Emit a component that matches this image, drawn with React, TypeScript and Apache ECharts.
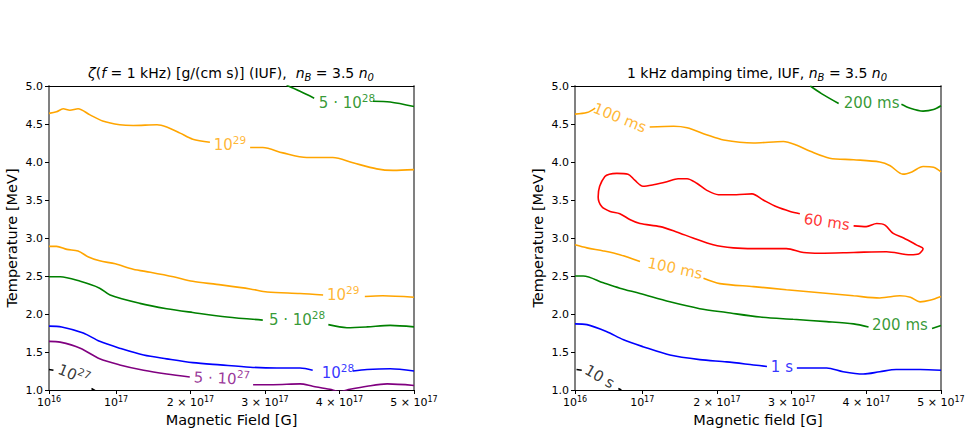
import React, { useEffect, useRef } from 'react';
import * as echarts from 'echarts';

const FONT = 'DejaVu Sans';

// x values in units of 1e17 G, y in MeV
const xTickValues = [0.1, 1, 2, 3, 4, 5];

// ---------- Left panel: bulk viscosity zeta ----------
const zetaOrangeUpperA = [[0.1, 4.64], [0.2, 4.66], [0.29, 4.70], [0.38, 4.68], [0.49, 4.70], [0.65, 4.62], [0.82, 4.54], [1.05, 4.49], [1.23, 4.48], [1.55, 4.49], [1.68, 4.46], [1.86, 4.38], [2.03, 4.30], [2.26, 4.26]];
const zetaOrangeUpperB = [[2.80, 4.19], [2.97, 4.19], [3.24, 4.12], [3.56, 4.06], [3.91, 4.06], [4.18, 3.99], [4.50, 3.91], [4.72, 3.89], [5.0, 3.90]];
const zetaGreenUpperA = [[3.29, 5.01], [3.47, 4.93], [3.66, 4.84]];
const zetaGreenUpperB = [[4.45, 4.80], [4.68, 4.79], [5.0, 4.73]];
const zetaOrangeLowerA = [[0.1, 2.89], [0.2, 2.89], [0.34, 2.85], [0.49, 2.83], [0.63, 2.75], [0.78, 2.70], [0.99, 2.66], [1.23, 2.59], [1.46, 2.55], [1.77, 2.49], [2.03, 2.43], [2.35, 2.39], [2.80, 2.33], [3.03, 2.29], [3.47, 2.27], [3.78, 2.25]];
const zetaOrangeLowerB = [[4.34, 2.23], [4.58, 2.24], [5.0, 2.22]];
const zetaGreenLowerA = [[0.1, 2.49], [0.25, 2.49], [0.52, 2.43], [0.78, 2.34], [0.92, 2.25], [1.32, 2.14], [1.68, 2.07], [2.03, 2.02], [2.49, 1.96], [2.97, 1.92]];
const zetaGreenLowerB = [[3.85, 1.86], [4.1, 1.82], [4.37, 1.83], [4.68, 1.85], [5.0, 1.83]];
const zetaBlueA = [[0.1, 1.84], [0.27, 1.83], [0.56, 1.75], [0.78, 1.64], [1.05, 1.55], [1.37, 1.46], [1.68, 1.41], [2.03, 1.36], [2.40, 1.33], [2.80, 1.30], [3.16, 1.29], [3.47, 1.29], [3.64, 1.26]];
const zetaBlueB = [[4.18, 1.25], [4.37, 1.27], [4.68, 1.28], [5.0, 1.25]];
const zetaPurpleA = [[0.1, 1.64], [0.25, 1.63], [0.52, 1.55], [0.78, 1.41], [1.05, 1.33], [1.37, 1.26], [1.68, 1.21], [1.99, 1.17]];
const zetaPurpleB = [[2.84, 1.07], [3.11, 1.07], [3.47, 1.08], [3.64, 1.05], [3.87, 1.01], [4.0, 0.98], [4.14, 1.01], [4.37, 1.05], [4.64, 1.08], [5.0, 1.06]];
const zetaBlackA = [[0.1, 1.27], [0.16, 1.26]];
const zetaBlackB = [[0.67, 1.02], [0.72, 0.99]];

const zetaLabelText = ['10{s|29}', '5 · 10{s|28}', '10{s|29}', '5 · 10{s|28}', '10{s|28}', '5 · 10{s|27}', '10{s|27}'];
const zetaLabelPos = [[2.53, 4.22], [4.1, 4.77], [4.05, 2.25], [3.43, 1.92], [3.98, 1.22], [2.42, 1.15], [0.43, 1.20]];

// ---------- Right panel: damping time ----------
const tauOrangeUpperA = [[0.1, 4.63], [0.26, 4.65], [0.37, 4.71]];
const tauOrangeUpperB = [[1.10, 4.46], [1.42, 4.47], [1.60, 4.45], [1.86, 4.36], [2.09, 4.29], [2.49, 4.25], [2.89, 4.27], [3.07, 4.22], [3.25, 4.14], [3.51, 4.05], [3.83, 4.03], [4.18, 4.00], [4.32, 3.95], [4.49, 3.84], [4.61, 3.87], [4.76, 3.94], [4.90, 3.93], [5.0, 3.87]];
const tauGreenUpperA = [[3.25, 5.0], [3.40, 4.90], [3.63, 4.77]];
const tauGreenUpperB = [[4.47, 4.76], [4.58, 4.71], [4.76, 4.67], [4.90, 4.69], [5.0, 4.74]];
const tauRed = [[3.83, 3.16], [4.0, 3.15], [4.14, 3.19], [4.25, 3.17], [4.36, 3.06], [4.50, 3.00], [4.67, 2.91], [4.76, 2.86], [4.70, 2.79], [4.59, 2.78], [4.27, 2.82], [3.83, 2.81], [3.38, 2.80], [3.16, 2.81], [2.93, 2.86], [2.49, 2.86], [2.22, 2.87], [1.95, 2.91], [1.68, 3.00], [1.46, 3.08], [1.24, 3.15], [0.97, 3.19], [0.84, 3.24], [0.70, 3.32], [0.57, 3.35], [0.46, 3.41], [0.41, 3.54], [0.43, 3.68], [0.50, 3.81], [0.56, 3.84], [0.66, 3.85], [0.81, 3.84], [0.90, 3.76], [1.01, 3.68], [1.15, 3.70], [1.33, 3.74], [1.48, 3.78], [1.60, 3.78], [1.73, 3.72], [1.86, 3.63], [2.02, 3.57], [2.26, 3.57], [2.47, 3.58], [2.62, 3.50], [2.80, 3.41], [2.98, 3.35], [3.11, 3.32]];
const tauOrangeLowerA = [[0.1, 2.91], [0.26, 2.87], [0.48, 2.83], [0.70, 2.78], [0.97, 2.69]];
const tauOrangeLowerB = [[1.82, 2.47], [2.04, 2.40], [2.49, 2.36], [2.93, 2.32], [3.38, 2.28], [3.83, 2.24], [4.18, 2.21], [4.27, 2.22], [4.45, 2.24], [4.59, 2.22], [4.72, 2.16], [4.85, 2.18], [5.0, 2.23]];
const tauGreenLowerA = [[0.1, 2.50], [0.21, 2.50], [0.48, 2.41], [0.70, 2.34], [0.97, 2.27], [1.37, 2.16], [1.77, 2.07], [2.13, 2.02], [2.58, 1.96], [3.02, 1.93], [3.47, 1.90], [3.83, 1.87], [4.03, 1.83]];
const tauGreenLowerB = [[4.88, 1.81], [5.0, 1.85]];
const tauBlueA = [[0.1, 1.87], [0.26, 1.86], [0.52, 1.77], [0.75, 1.66], [1.01, 1.57], [1.37, 1.46], [1.77, 1.40], [2.13, 1.37], [2.49, 1.33], [2.67, 1.31]];
const tauBlueB = [[3.07, 1.29], [3.47, 1.29], [3.69, 1.24], [3.96, 1.21], [4.18, 1.24], [4.40, 1.27], [4.72, 1.27], [5.0, 1.26]];
const tauBlackA = [[0.12, 1.27], [0.19, 1.26]];
const tauBlackB = [[0.68, 1.02], [0.72, 1.0]];

const tauLabelText = ['100 ms', '200 ms', '60 ms', '100 ms', '200 ms', '1 s', '10 s'];
const tauLabelPos = [[0.70, 4.58], [4.07, 4.77], [3.47, 3.21], [1.44, 2.60], [4.45, 1.86], [2.87, 1.30], [0.43, 1.175]];

// ---------- styles ----------
const ORANGE = '#FFA500';
const GREEN = '#008000';
const BLUE = '#0000FF';
const PURPLE = '#800080';
const RED = '#FF0000';
const BLACK = '#000000';

const zetaLines: [number[][], string][] = [
  [zetaOrangeUpperA, ORANGE], [zetaOrangeUpperB, ORANGE],
  [zetaGreenUpperA, GREEN], [zetaGreenUpperB, GREEN],
  [zetaOrangeLowerA, ORANGE], [zetaOrangeLowerB, ORANGE],
  [zetaGreenLowerA, GREEN], [zetaGreenLowerB, GREEN],
  [zetaBlueA, BLUE], [zetaBlueB, BLUE],
  [zetaPurpleA, PURPLE], [zetaPurpleB, PURPLE],
  [zetaBlackA, BLACK], [zetaBlackB, BLACK],
];
const zetaLabelColor = [ORANGE, GREEN, ORANGE, GREEN, BLUE, PURPLE, BLACK];
const zetaLabelRotate = [0, 0, 0, 0, 0, -3, -22];

const tauLines: [number[][], string][] = [
  [tauOrangeUpperA, ORANGE], [tauOrangeUpperB, ORANGE],
  [tauGreenUpperA, GREEN], [tauGreenUpperB, GREEN],
  [tauRed, RED],
  [tauOrangeLowerA, ORANGE], [tauOrangeLowerB, ORANGE],
  [tauGreenLowerA, GREEN], [tauGreenLowerB, GREEN],
  [tauBlueA, BLUE], [tauBlueB, BLUE],
  [tauBlackA, BLACK], [tauBlackB, BLACK],
];
const tauLabelColor = [ORANGE, GREEN, RED, ORANGE, GREEN, BLUE, BLACK];
const tauLabelRotate = [-22, 0, -8, -12, 0, 0, -30];

function buildOption() {
  const grids = [
    { left: 49, top: 86, width: 365, height: 304 },
    { left: 575, top: 86, width: 366, height: 304 },
  ];
  const xNames = ['Magnetic Field [G]', 'Magnetic field [G]'];

  const tickRich = {
    s: { fontSize: 8, fontFamily: FONT, color: '#000', padding: [0, 0, 7, 0] },
  };
  const xLabelFmt = (v: number) => {
    if (Math.abs(v - 0.1) < 1e-6) return '10{s|16}';
    if (Math.abs(v - 1) < 1e-6) return '10{s|17}';
    return `${Math.round(v)} × 10{s|17}`;
  };

  const xAxis: any[] = [];
  const yAxis: any[] = [];
  [0, 1].forEach((g) => {
    xAxis.push({
      type: 'value', gridIndex: g, min: 0.1, max: 5, position: 'bottom',
      name: xNames[g], nameLocation: 'middle', nameGap: 22,
      nameTextStyle: { fontFamily: FONT, fontSize: 14.5, color: '#000' },
      axisLine: { show: true, onZero: false, lineStyle: { color: '#000', width: 1 } },
      axisTick: { show: true, customValues: xTickValues, length: 4, lineStyle: { color: '#000' } },
      axisLabel: {
        show: true, customValues: xTickValues, formatter: xLabelFmt, margin: 5,
        fontFamily: FONT, fontSize: 11, color: '#000', rich: tickRich,
      },
      splitLine: { show: false },
    });
    xAxis.push({
      type: 'value', gridIndex: g, min: 0.1, max: 5, position: 'top',
      axisLine: { show: true, onZero: false, lineStyle: { color: '#000', width: 1 } },
      axisTick: { show: false }, axisLabel: { show: false }, splitLine: { show: false },
    });
    yAxis.push({
      type: 'value', gridIndex: g, min: 1, max: 5, interval: 0.5, position: 'left',
      name: 'Temperature [MeV]', nameLocation: 'middle', nameGap: 30,
      nameTextStyle: { fontFamily: FONT, fontSize: 14.5, color: '#000' },
      axisLine: { show: true, onZero: false, lineStyle: { color: '#808080', width: 2 } },
      axisTick: { show: true, length: 4, lineStyle: { color: '#000' } },
      axisLabel: {
        formatter: (v: number) => v.toFixed(1), margin: 6,
        fontFamily: FONT, fontSize: 11, color: '#000',
      },
      splitLine: { show: false },
    });
    yAxis.push({
      type: 'value', gridIndex: g, min: 1, max: 5, position: 'right',
      axisLine: { show: true, onZero: false, lineStyle: { color: '#808080', width: 2 } },
      axisTick: { show: false }, axisLabel: { show: false }, splitLine: { show: false },
    });
  });

  const series: any[] = [];
  const addLines = (lines: [number[][], string][], g: number) => {
    lines.forEach(([data, color]) => {
      series.push({
        type: 'line', xAxisIndex: g * 2, yAxisIndex: g * 2, data,
        showSymbol: false, symbol: 'none', smooth: 0.3, clip: true,
        lineStyle: { color, width: 1.6 }, silent: true,
      });
    });
  };
  addLines(zetaLines, 0);
  addLines(tauLines, 1);

  const addLabels = (texts: string[], pos: number[][], colors: string[], rots: number[], g: number) => {
    texts.forEach((t, i) => {
      series.push({
        type: 'scatter', xAxisIndex: g * 2, yAxisIndex: g * 2,
        symbol: 'circle', symbolSize: 2, itemStyle: { color: 'rgba(0,0,0,0)' }, silent: true,
        data: [pos[i]],
        label: {
          show: true, position: 'inside', formatter: t, rotate: rots[i],
          fontFamily: FONT, fontSize: 15, color: colors[i],
          textBorderWidth: 0, textBorderColor: 'transparent', textShadowBlur: 0,
          rich: {
            s: {
              fontSize: 10.5, fontFamily: FONT, padding: [0, 0, 11, 0], color: colors[i],
              textBorderWidth: 0, textBorderColor: 'transparent',
            },
          },
        },
      });
    });
  };
  addLabels(zetaLabelText, zetaLabelPos, zetaLabelColor, zetaLabelRotate, 0);
  addLabels(tauLabelText, tauLabelPos, tauLabelColor, tauLabelRotate, 1);

  const titleRich = {
    i: { fontFamily: FONT, fontSize: 14, fontStyle: 'italic', fill: '#000' },
    sub: { fontFamily: FONT, fontSize: 10, fontStyle: 'italic', fill: '#000', padding: [9, 0, 0, 0] },
  };

  return {
    animation: false,
    backgroundColor: '#ffffff',
    grid: grids,
    xAxis, yAxis, series,
    graphic: [
      {
        type: 'text', x: 231, y: 73,
        style: {
          text: '{i|ζ}({i|f} = 1 kHz) [g/(cm s)] (IUF),  {i|n}{sub|B} = 3.5 {i|n}{sub|0}',
          fontFamily: FONT, fontSize: 14, fill: '#000', align: 'center', verticalAlign: 'middle',
          rich: titleRich,
        },
      },
      {
        type: 'text', x: 757, y: 73,
        style: {
          text: '1 kHz damping time, IUF, {i|n}{sub|B} = 3.5 {i|n}{sub|0}',
          fontFamily: FONT, fontSize: 14, fill: '#000', align: 'center', verticalAlign: 'middle',
          rich: titleRich,
        },
      },
    ],
  };
}

export default function App() {
  const ref = useRef<HTMLDivElement>(null);
  useEffect(() => {
    if (!ref.current) return;
    const chart = echarts.init(ref.current, null, { renderer: 'svg' });
    chart.setOption(buildOption() as any);
    return () => chart.dispose();
  }, []);
  return <div ref={ref} style={{ position: 'absolute', left: 0, top: 0, width: 970, height: 435 }} />;
}
